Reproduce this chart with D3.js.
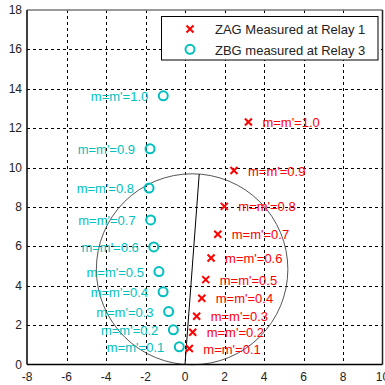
<!DOCTYPE html>
<html>
<head>
<meta charset="utf-8">
<script src="https://cdn.jsdelivr.net/npm/d3@7"></script>
<style>
  html, body { margin: 0; padding: 0; background: #fff; }
  text { font-family: Arial, "Liberation Sans", sans-serif; }
</style>
</head>
<body>
<div id="chart"></div>
<script>
// data
const mLabels = ["1.0", "0.9", "0.8", "0.7", "0.6", "0.5", "0.4", "0.3", "0.2", "0.1"];
const zagX = [3.21, 2.48, 1.99, 1.66, 1.32, 1.05, 0.85, 0.59, 0.39, 0.22];
const zagY = [12.31, 9.85, 8.03, 6.61, 5.41, 4.31, 3.36, 2.45, 1.64, 0.81];
const zbgX = [-1.10, -1.77, -1.82, -1.74, -1.58, -1.32, -1.11, -0.83, -0.59, -0.29];
const zbgY = [13.64, 10.95, 8.96, 7.34, 5.97, 4.72, 3.69, 2.69, 1.76, 0.90];
const xTicks = [-8, -6, -4, -2, 0, 2, 4, 6, 8, 10];
const yTicks = [0, 2, 4, 6, 8, 10, 12, 14, 16, 18];
// mho circle: diameter from the origin to the reach point
const reach = [0.72, 9.67];
const legendNames = ["ZAG Measured at Relay 1", "ZBG measured at Relay 3"];

const width = 385, height = 385;
const margin = { left: 27, right: 2.5, top: 10, bottom: 20.5 };
const red = '#ff0000', cyan = '#00bfbf';

const x = d3.scaleLinear().domain([-8, 10]).range([margin.left, width - margin.right]);
const y = d3.scaleLinear().domain([0, 18]).range([height - margin.bottom, margin.top]);

const svg = d3.select('#chart').append('svg')
    .attr('width', width)
    .attr('height', height);

// grid
const grid = svg.append('g')
    .attr('stroke', '#000')
    .attr('stroke-width', 1)
    .attr('stroke-dasharray', '3,3');
grid.selectAll('.vx').data(xTicks.slice(1, -1)).enter().append('line')
    .attr('x1', d => Math.round(x(d)) + 0.5).attr('x2', d => Math.round(x(d)) + 0.5)
    .attr('y1', y(18)).attr('y2', y(0));
grid.selectAll('.hy').data(yTicks.slice(1, -1)).enter().append('line')
    .attr('y1', d => Math.round(y(d)) + 0.5).attr('y2', d => Math.round(y(d)) + 0.5)
    .attr('x1', x(-8)).attr('x2', x(10));

// mho circle
const cx = reach[0] / 2, cy = reach[1] / 2;
const r = Math.hypot(reach[0], reach[1]) / 2;
svg.append('ellipse')
    .attr('cx', x(cx)).attr('cy', y(cy))
    .attr('rx', x(cx + r) - x(cx)).attr('ry', y(cy) - y(cy + r))
    .attr('fill', 'none').attr('stroke', '#555').attr('stroke-width', 1);
svg.append('line')
    .attr('x1', x(0)).attr('y1', y(0))
    .attr('x2', x(reach[0])).attr('y2', y(reach[1]))
    .attr('stroke', '#000').attr('stroke-width', 1);

// axes box
svg.append('line').attr('x1', x(-8)).attr('x2', x(10)).attr('y1', y(18)).attr('y2', y(18))
    .attr('stroke', '#777').attr('stroke-width', 1.5);
svg.append('line').attr('x1', x(10)).attr('x2', x(10)).attr('y1', y(18)).attr('y2', y(0))
    .attr('stroke', '#222').attr('stroke-width', 1.5);
svg.append('line').attr('x1', x(-8)).attr('x2', x(-8)).attr('y1', y(18)).attr('y2', y(0))
    .attr('stroke', '#000').attr('stroke-width', 1.5);
svg.append('line').attr('x1', x(-8)).attr('x2', x(10)).attr('y1', y(0)).attr('y2', y(0))
    .attr('stroke', '#000').attr('stroke-width', 1.5);

// tick labels
svg.selectAll('.xt').data(xTicks).enter().append('text')
    .attr('x', d => x(d)).attr('y', height - 4)
    .attr('text-anchor', 'middle')
    .attr('font-size', 12).attr('fill', '#222')
    .text(d => d);
svg.selectAll('.yt').data(yTicks).enter().append('text')
    .attr('x', margin.left - 5).attr('y', d => y(d) + 4)
    .attr('text-anchor', 'end')
    .attr('font-size', 12).attr('fill', '#222')
    .text(d => d);

function cross(g, px, py, s) {
    g.append('path')
        .attr('d', `M${px - s},${py - s}L${px + s},${py + s}M${px - s},${py + s}L${px + s},${py - s}`)
        .attr('stroke', red).attr('stroke-width', 2).attr('fill', 'none');
}

// ZAG points + labels
const zag = svg.append('g');
mLabels.forEach((m, i) => {
    cross(zag, x(zagX[i]), y(zagY[i]), 3.5);
    zag.append('text')
        .attr('x', x(zagX[i]) + 14).attr('y', y(zagY[i]) + 5)
        .attr('font-size', 13).attr('fill', red)
        .text("m=m'=" + m);
});

// ZBG points + labels
const zbg = svg.append('g');
mLabels.forEach((m, i) => {
    zbg.append('circle')
        .attr('cx', x(zbgX[i])).attr('cy', y(zbgY[i])).attr('r', 4.5)
        .attr('fill', 'none').attr('stroke', cyan).attr('stroke-width', 2);
    zbg.append('text')
        .attr('x', x(zbgX[i]) - 15).attr('y', y(zbgY[i]) + 5)
        .attr('text-anchor', 'end')
        .attr('font-size', 13).attr('fill', cyan)
        .text("m=m'=" + m);
});

// legend
const lg = svg.append('g');
lg.append('rect')
    .attr('x', 161.5).attr('y', 16.5).attr('width', 216.5).attr('height', 43.5)
    .attr('fill', '#fff').attr('stroke', '#000').attr('stroke-width', 1);
cross(lg, 190, 29, 3.5);
lg.append('circle').attr('cx', 190).attr('cy', 49.3).attr('r', 4.5)
    .attr('fill', 'none').attr('stroke', cyan).attr('stroke-width', 2);
legendNames.forEach((t, i) => {
    lg.append('text')
        .attr('x', 215).attr('y', 34 + i * 20.5)
        .attr('font-size', 13).attr('fill', '#222')
        .text(t);
});
</script>
</body>
</html>
